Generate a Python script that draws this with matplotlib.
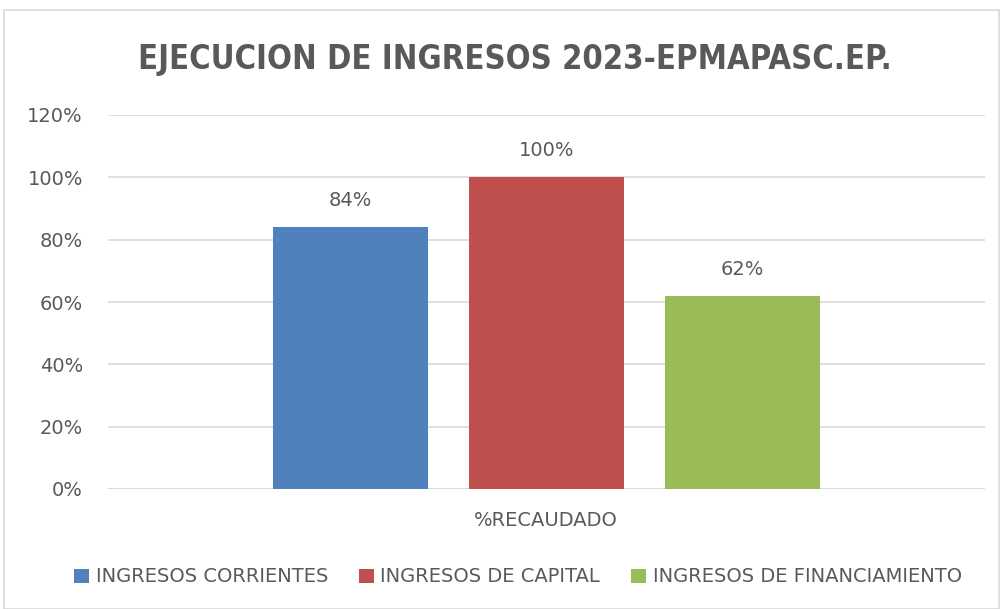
import matplotlib
matplotlib.use("Agg")
from matplotlib import pyplot as plt
from matplotlib.patches import Rectangle

plt.rcParams['font.family'] = ['DejaVu Sans']

title = 'EJECUCION DE INGRESOS 2023-EPMAPASC.EP.'
category = '%RECAUDADO'
series = ['INGRESOS CORRIENTES', 'INGRESOS DE CAPITAL', 'INGRESOS DE FINANCIAMIENTO']
values = [84, 100, 62]
colors = ['#4F81BD', '#C0504D', '#9BBB59']
yticks = [0, 20, 40, 60, 80, 100, 120]

txt = '#595959'
grid = '#D9D9D9'

fig = plt.figure(figsize=(10.04, 6.09), dpi=100)
fig.patches.append(Rectangle((4 / 1004, 0), 995 / 1004, 599 / 609, transform=fig.transFigure,
                             fill=False, edgecolor=grid, linewidth=1.2))

# axes placed in pixel terms: x 108..985, y 115..489 (from top)
ax = fig.add_axes([108 / 1004, (609 - 489) / 609, 877 / 1004, 374 / 609])

pos = [-1, 0, 1]
bars = ax.bar(pos, values, width=0.79, color=colors, label=series, zorder=3)
for b, v in zip(bars, values):
    ax.text(b.get_x() + b.get_width() / 2, v + 5.5, f'{v}%', ha='center', va='bottom',
            fontsize=14, color=txt)

ax.set_xlim(-2.235, 2.235)
ax.set_ylim(0, 120)
ax.set_yticks(yticks)
ax.set_yticklabels([f'{t}%' for t in yticks], fontsize=14, color=txt)
ax.set_xticks([])
ax.tick_params(axis='y', length=0, pad=18)
ax.yaxis.grid(True, color=grid, linewidth=1.2, zorder=0)
for s in ax.spines.values():
    s.set_visible(False)
ax.axhline(0, color=grid, linewidth=1.2, zorder=2)

fig.text(546 / 1004, 1 - 520 / 609, category, ha='center', va='center', fontsize=14, color=txt)
fig.text(515 / 1004, 1 - 59 / 609, title, ha='center', va='center', fontsize=23.5,
         fontweight='bold', fontstretch='condensed', color=txt)

fig.legend(handles=bars, labels=series, loc='center', bbox_to_anchor=(518 / 1004, 1 - 577 / 609),
           ncol=3, frameon=False, fontsize=14, labelcolor=txt, handlelength=0.75, handleheight=0.75,
           handletextpad=0.35, columnspacing=1.6)

fig.savefig('out.png', dpi=100)
